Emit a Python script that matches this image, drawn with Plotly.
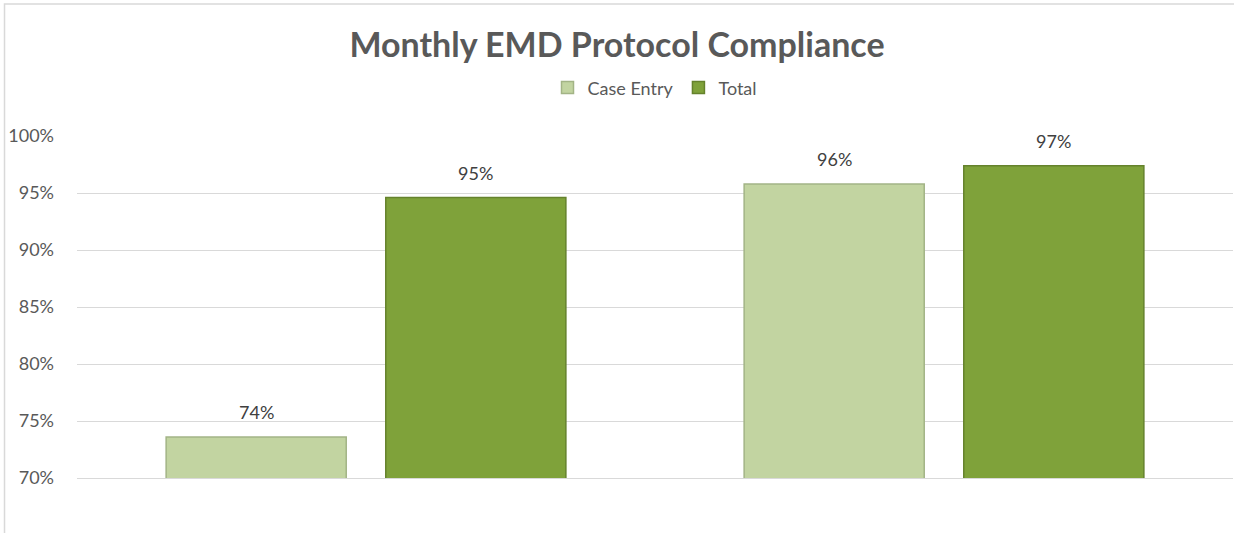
import plotly.graph_objects as go

categories = ["Period 1", "Period 2"]
case_entry = [0.736, 0.958]
total = [0.946, 0.974]
tick_vals = [0.70, 0.75, 0.80, 0.85, 0.90, 0.95, 1.00]
tick_text = ["70%", "75%", "80%", "85%", "90%", "95%", "100%"]

font_family = "Lato, 'Open Sans', sans-serif"

fig = go.Figure()
fig.add_trace(go.Bar(
    name="Case Entry", x=categories, y=case_entry,
    marker=dict(color="#c2d4a1", line=dict(color="#a3b486", width=1.5)),
    offsetgroup="a",
))
fig.add_trace(go.Bar(
    name="Total", x=categories, y=total,
    marker=dict(color="#7fa23a", line=dict(color="#65822c", width=1.5)),
    offsetgroup="b",
))

# data labels above bars
for cat_idx, cat in enumerate(categories):
    for vals, shift in ((case_entry, -0.19), (total, 0.19)):
        fig.add_annotation(x=cat_idx + shift, y=vals[cat_idx], xref="x", yref="y",
                           text=f"{vals[cat_idx]:.0%}", showarrow=False,
                           yanchor="bottom", yshift=12,
                           font=dict(size=18, color="#404040", family=font_family))

fig.update_layout(
    width=1234, height=533,
    margin=dict(l=77, r=1, t=136, b=55),
    paper_bgcolor="white", plot_bgcolor="white",
    font=dict(family=font_family, color="#595959"),
    title=dict(text="<b>Monthly EMD Protocol Compliance</b>", x=0.5, xanchor="center",
               y=0.915, yanchor="middle", font=dict(size=34, color="#595959")),
    legend=dict(orientation="h", x=0.5, xanchor="center", y=1.141, yanchor="middle",
                font=dict(size=18, color="#595959"), itemwidth=30, traceorder="normal"),
    barmode="group", bargap=0.24, bargroupgap=0.18,
    showlegend=True,
)
fig.update_yaxes(range=[0.70, 1.00], tickvals=tick_vals, ticktext=tick_text,
                 showgrid=True, gridcolor="#d9d9d9", gridwidth=1,
                 zeroline=False, showline=False, ticks="", ticklabelstandoff=22,
                 tickfont=dict(size=18, color="#595959"))
fig.update_xaxes(showticklabels=False, showline=True, linecolor="#d9d9d9", linewidth=1,
                 ticks="", showgrid=False, range=[-0.5, 1.5])
fig.add_shape(type="rect", xref="paper", yref="paper",
              x0=-0.0627, x1=1.03, y0=-0.3, y1=1.386,
              line=dict(color="#d9d9d9", width=1.5), layer="below")

fig.write_html("out.html", config={"displayModeBar": False},
               post_script="document.body.style.margin='0';")
